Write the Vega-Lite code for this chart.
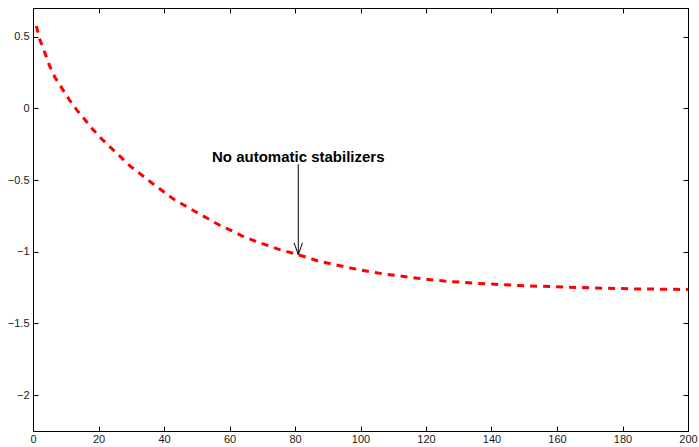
{
  "$schema": "https://vega.github.io/schema/vega-lite/v6.json",
  "width": 655,
  "height": 423,
  "autosize": {"type": "none"},
  "padding": {"left": 33, "top": 8, "right": 11, "bottom": 16},
  "background": "white",
  "config": {
    "view": {"stroke": "black", "strokeWidth": 1},
    "font": "Liberation Sans",
    "axis": {
      "grid": false,
      "domainColor": "black",
      "tickColor": "black",
      "labelFont": "Liberation Sans",
      "labelFontSize": 11,
      "labelColor": "#1a1a1a",
      "tickSize": -5,
      "title": null
    }
  },
  "datasets": {
    "curve": [
      {"x": 1, "y": 0.575},
      {"x": 2, "y": 0.485},
      {"x": 3.6, "y": 0.389},
      {"x": 5.1, "y": 0.295},
      {"x": 6.6, "y": 0.221},
      {"x": 8.7, "y": 0.145},
      {"x": 11, "y": 0.063},
      {"x": 13.4, "y": -0.012},
      {"x": 15.8, "y": -0.077},
      {"x": 18.3, "y": -0.147},
      {"x": 20.9, "y": -0.212},
      {"x": 23.9, "y": -0.277},
      {"x": 26.7, "y": -0.337},
      {"x": 29.7, "y": -0.403},
      {"x": 33.1, "y": -0.463},
      {"x": 36.5, "y": -0.524},
      {"x": 39.7, "y": -0.578},
      {"x": 42.8, "y": -0.631},
      {"x": 46.3, "y": -0.677},
      {"x": 49.9, "y": -0.724},
      {"x": 53.5, "y": -0.77},
      {"x": 57, "y": -0.815},
      {"x": 60.6, "y": -0.852},
      {"x": 64.1, "y": -0.892},
      {"x": 68, "y": -0.927},
      {"x": 71.8, "y": -0.957},
      {"x": 75.3, "y": -0.985},
      {"x": 79.4, "y": -1.01},
      {"x": 83.5, "y": -1.038},
      {"x": 87, "y": -1.064},
      {"x": 91.1, "y": -1.085},
      {"x": 95.2, "y": -1.105},
      {"x": 99.3, "y": -1.124},
      {"x": 102.8, "y": -1.138},
      {"x": 106.9, "y": -1.154},
      {"x": 111, "y": -1.166},
      {"x": 115.1, "y": -1.178},
      {"x": 119.1, "y": -1.189},
      {"x": 123.2, "y": -1.199},
      {"x": 127.3, "y": -1.208},
      {"x": 131.3, "y": -1.213},
      {"x": 135.4, "y": -1.22},
      {"x": 139.5, "y": -1.224},
      {"x": 143.1, "y": -1.229},
      {"x": 147.1, "y": -1.234},
      {"x": 151.2, "y": -1.238},
      {"x": 155.3, "y": -1.241},
      {"x": 159.4, "y": -1.243},
      {"x": 163.4, "y": -1.248},
      {"x": 167.5, "y": -1.25},
      {"x": 171.6, "y": -1.252},
      {"x": 175.6, "y": -1.255},
      {"x": 179.7, "y": -1.257},
      {"x": 183.8, "y": -1.259},
      {"x": 187.8, "y": -1.259},
      {"x": 191.9, "y": -1.262},
      {"x": 196, "y": -1.262},
      {"x": 200, "y": -1.264}
    ],
    "shaft": [{"x": 81, "y": -0.39, "y2": -1.02}],
    "head": [
      {"x": 79.7, "y": -0.937, "o": 1},
      {"x": 81, "y": -1.02, "o": 2},
      {"x": 82.3, "y": -0.937, "o": 3}
    ],
    "label": [{"x": 81, "y": -0.372, "text": "No automatic stabilizers"}]
  },
  "layer": [
    {
      "data": {"name": "curve"},
      "mark": {"type": "line", "color": "#ff0000", "strokeWidth": 3, "strokeDash": [7, 6], "strokeCap": "butt", "clip": true},
      "encoding": {
        "x": {"field": "x", "type": "quantitative", "scale": {"domain": [0, 200], "nice": false},
              "axis": {"orient": "bottom", "values": [0, 20, 40, 60, 80, 100, 120, 140, 160, 180, 200], "labelPadding": 7, "labelFlush": false}},
        "y": {"field": "y", "type": "quantitative", "scale": {"domain": [-2.25, 0.7], "nice": false, "zero": false},
              "axis": {"orient": "left", "values": [0.5, 0, -0.5, -1, -1.5, -2], "format": "~g", "labelPadding": 9}}
      }
    },
    {
      "data": {"name": "shaft"},
      "mark": {"type": "rule", "color": "black", "strokeWidth": 1},
      "encoding": {
        "x": {"field": "x", "type": "quantitative",
              "axis": {"orient": "top", "values": [0, 20, 40, 60, 80, 100, 120, 140, 160, 180, 200], "labels": false}},
        "y": {"field": "y", "type": "quantitative",
              "axis": {"orient": "right", "values": [0.5, 0, -0.5, -1, -1.5, -2], "labels": false}},
        "y2": {"field": "y2"}
      }
    },
    {
      "data": {"name": "head"},
      "mark": {"type": "line", "color": "black", "strokeWidth": 1},
      "encoding": {
        "x": {"field": "x", "type": "quantitative", "axis": null},
        "y": {"field": "y", "type": "quantitative", "axis": null},
        "order": {"field": "o"}
      }
    },
    {
      "data": {"name": "label"},
      "mark": {"type": "text", "font": "Liberation Sans", "fontWeight": "bold", "fontSize": 15, "align": "center", "baseline": "alphabetic", "color": "black"},
      "encoding": {
        "x": {"field": "x", "type": "quantitative", "axis": null},
        "y": {"field": "y", "type": "quantitative", "axis": null},
        "text": {"field": "text"}
      }
    }
  ],
  "resolve": {"axis": {"x": "independent", "y": "independent"}}
}
